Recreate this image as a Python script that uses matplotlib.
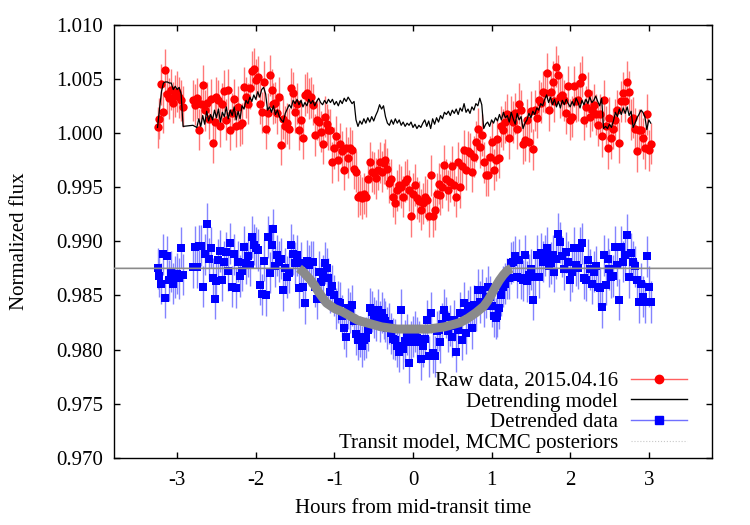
import numpy as np
import matplotlib
matplotlib.use('Agg')
import matplotlib.pyplot as plt
from matplotlib.lines import Line2D

plt.rcParams['font.family'] = ['Liberation Serif', 'DejaVu Serif']
plt.rcParams['font.size'] = 15
plt.rcParams['axes.unicode_minus'] = False

# two observing segments (short gap near -2.9 h), 0.025 h cadence
seg_start = [-3.25, -2.80]
seg_end = [-2.925, 3.025]

# raw photometry, 2015.04.16
raw_1 = [1.0005, 1.0013, 1.0045, 1.0019, 1.0058, 1.0036, 1.0032, 1.0040, 1.0028, 1.0034,
         1.0038, 1.0033, 1.0030, 1.0024]
raw_2 = [1.0030, 1.0026, 1.0032, 1.0003, 1.0027, 1.0044, 1.0021, 1.0028, 1.0013, 1.0031,
         0.9991, 1.0010, 1.0033, 1.0030, 1.0006, 1.0027, 1.0039, 1.0012, 1.0040, 1.0003,
         1.0018, 1.0031, 1.0006, 1.0024, 1.0007, 1.0009, 1.0042, 1.0033, 1.0027, 1.0041,
         1.0057, 1.0059, 1.0049, 1.0052, 1.0027, 1.0019, 1.0047, 1.0004, 1.0018, 1.0053,
         1.0040, 1.0027, 1.0028, 1.0018, 1.0033, 0.9989, 1.0013, 1.0006, 1.0009, 1.0004,
         1.0041, 1.0037, 1.0019, 1.0027, 1.0003, 1.0012, 0.9995, 1.0035, 1.0037, 1.0032,
         1.0033, 1.0026, 0.9998, 1.0012, 1.0010, 1.0001, 0.9990, 1.0015, 1.0008, 1.0003,
         1.0003, 0.9973, 0.9986, 0.9997, 0.9975, 0.9990, 0.9983, 0.9966, 0.9986, 0.9977,
         0.9986, 0.9984, 0.9967, 0.9964, 0.9941, 0.9943, 0.9940, 0.9944, 0.9941, 0.9957,
         0.9973, 0.9964, 0.9963, 0.9958, 0.9966, 0.9973, 0.9964, 0.9972, 0.9975, 0.9967,
         0.9954, 0.9957, 0.9941, 0.9935, 0.9947, 0.9952, 0.9950, 0.9941, 0.9955, 0.9957,
         0.9947, 0.9923, 0.9944, 0.9952, 0.9940, 0.9937, 0.9929, 0.9935, 0.9941, 0.9938,
         0.9923, 0.9961, 0.9923, 0.9929, 0.9944, 0.9953, 0.9943, 0.9950, 0.9970, 0.9957,
         0.9947, 0.9955, 0.9969, 0.9952, 0.9941, 0.9973, 0.9950, 0.9969, 0.9984, 0.9966,
         0.9983, 0.9981, 0.9964, 0.9978, 0.9992, 1.0004, 0.9987, 0.9998, 0.9973, 0.9961,
         0.9961, 0.9978, 0.9992, 0.9966, 0.9975, 0.9994, 0.9977, 1.0006, 1.0003, 1.0010,
         1.0017, 0.9995, 1.0015, 1.0010, 1.0018, 1.0004, 1.0027, 1.0021, 0.9990, 0.9993,
         1.0012, 0.9992, 1.0020, 0.9985, 1.0021, 1.0014, 1.0030, 1.0028, 1.0038, 1.0037,
         1.0055, 1.0021, 1.0038, 1.0047, 1.0029, 1.0061, 1.0053, 1.0033, 1.0035, 1.0030,
         1.0018, 1.0043, 1.0012, 1.0015, 1.0043, 1.0029, 1.0030, 1.0046, 1.0052, 1.0012,
         1.0024, 1.0037, 1.0015, 1.0021, 1.0026, 1.0017, 1.0007, 1.0017, 0.9997, 1.0030,
         1.0006, 0.9986, 1.0014, 0.9995, 1.0004, 1.0012, 1.0021, 0.9991, 1.0029, 1.0037,
         1.0029, 1.0047, 1.0038, 1.0012, 1.0014, 1.0004, 0.9983, 1.0003, 1.0003, 0.9995,
         0.9986, 1.0017, 0.9984, 0.9990]

# detrending model
trend_1 = [1.0005, 1.0022, 1.0038, 1.0046, 1.0047, 1.0047, 1.0046, 1.0046, 1.0040, 1.0043,
           1.0040, 1.0042, 1.0036, 1.0006]
trend_2 = [1.0007, 1.0006, 1.0005, 1.0013, 1.0006, 1.0016, 1.0008, 1.0020, 1.0011, 1.0017,
           1.0012, 1.0021, 1.0014, 1.0022, 1.0010, 1.0019, 1.0015, 1.0024, 1.0013, 1.0021,
           1.0016, 1.0024, 1.0012, 1.0020, 1.0013, 1.0025, 1.0022, 1.0030, 1.0027, 1.0033,
           1.0029, 1.0035, 1.0031, 1.0038, 1.0033, 1.0040, 1.0042, 1.0036, 1.0021, 1.0024,
           1.0019, 1.0025, 1.0017, 1.0021, 1.0015, 1.0012, 1.0010, 1.0018, 1.0022, 1.0026,
           1.0023, 1.0030, 1.0027, 1.0031, 1.0026, 1.0030, 1.0024, 1.0028, 1.0025, 1.0031,
           1.0027, 1.0030, 1.0025, 1.0029, 1.0032, 1.0028, 1.0026, 1.0030, 1.0027, 1.0031,
           1.0028, 1.0031, 1.0026, 1.0029, 1.0025, 1.0030, 1.0027, 1.0032, 1.0029, 1.0033,
           1.0030, 1.0027, 1.0029, 1.0012, 1.0006, 1.0011, 1.0008, 1.0013, 1.0009, 1.0014,
           1.0010, 1.0015, 1.0011, 1.0016, 1.0020, 1.0026, 1.0022, 1.0025, 1.0015, 1.0009,
           1.0007, 1.0012, 1.0008, 1.0013, 1.0009, 1.0012, 1.0007, 1.0010, 1.0006, 1.0009,
           1.0007, 1.0010, 1.0005, 1.0008, 1.0004, 1.0007, 1.0005, 1.0009, 1.0012, 1.0006,
           1.0011, 1.0004, 1.0013, 1.0008, 1.0014, 1.0010, 1.0016, 1.0013, 1.0019, 1.0017,
           1.0020, 1.0016, 1.0021, 1.0018, 1.0022, 1.0017, 1.0023, 1.0020, 1.0027, 1.0019,
           1.0022, 1.0018, 1.0024, 1.0021, 1.0027, 1.0025, 1.0032, 1.0026, 1.0004, 1.0008,
           1.0010, 1.0006, 1.0012, 1.0009, 1.0014, 1.0011, 1.0017, 1.0012, 1.0019, 1.0014,
           1.0016, 1.0010, 1.0019, 1.0013, 1.0008, 1.0018, 1.0012, 1.0015, 1.0004, 1.0009,
           1.0012, 1.0018, 1.0014, 1.0020, 1.0017, 1.0023, 1.0021, 1.0027, 1.0025, 1.0031,
           1.0035, 1.0028, 1.0033, 1.0026, 1.0031, 1.0024, 1.0029, 1.0023, 1.0030, 1.0026,
           1.0031, 1.0027, 1.0024, 1.0029, 1.0025, 1.0032, 1.0028, 1.0023, 1.0030, 1.0026,
           1.0031, 1.0027, 1.0033, 1.0028, 1.0030, 1.0034, 1.0029, 1.0025, 1.0032, 1.0004,
           1.0006, 1.0004, 1.0008, 1.0005, 1.0011, 1.0019, 1.0015, 1.0022, 1.0017, 1.0023,
           1.0018, 1.0024, 1.0016, 1.0020, 1.0005, 1.0009, 1.0014, 1.0017, 1.0021, 1.0019,
           1.0015, 1.0003, 1.0012, 1.0009]

# detrended light curve
detr_1 = [0.9875, 0.9868, 0.9861, 0.9888, 0.9848, 0.9886, 0.9864, 0.9872, 0.9861, 0.9867,
          0.9870, 0.9866, 0.9894, 0.9869]
detr_2 = [0.9876, 0.9895, 0.9876, 0.9896, 0.9896, 0.9858, 0.9888, 0.9916, 0.9884, 0.9894,
          0.9866, 0.9847, 0.9863, 0.9883, 0.9891, 0.9864, 0.9881, 0.9890, 0.9873, 0.9898,
          0.9858, 0.9888, 0.9857, 0.9881, 0.9868, 0.9873, 0.9895, 0.9880, 0.9886, 0.9878,
          0.9904, 0.9897, 0.9894, 0.9892, 0.9860, 0.9851, 0.9882, 0.9850, 0.9904, 0.9871,
          0.9897, 0.9911, 0.9877, 0.9887, 0.9881, 0.9884, 0.9855, 0.9875, 0.9867, 0.9871,
          0.9897, 0.9888, 0.9880, 0.9887, 0.9857, 0.9880, 0.9858, 0.9843, 0.9882, 0.9878,
          0.9881, 0.9881, 0.9858, 0.9847, 0.9872, 0.9862, 0.9868, 0.9880, 0.9875, 0.9866,
          0.9853, 0.9859, 0.9850, 0.9838, 0.9844, 0.9843, 0.9831, 0.9820, 0.9812, 0.9838,
          0.9834, 0.9841, 0.9826, 0.9814, 0.9809, 0.9812, 0.9803, 0.9809, 0.9811, 0.9818,
          0.9838, 0.9835, 0.9830, 0.9827, 0.9837, 0.9826, 0.9834, 0.9829, 0.9826, 0.9820,
          0.9824, 0.9815, 0.9810, 0.9809, 0.9803, 0.9798, 0.9837, 0.9801, 0.9808, 0.9814,
          0.9788, 0.9807, 0.9812, 0.9817, 0.9811, 0.9807, 0.9791, 0.9803, 0.9810, 0.9827,
          0.9794, 0.9834, 0.9797, 0.9794, 0.9817, 0.9818, 0.9807, 0.9824, 0.9837, 0.9830,
          0.9817, 0.9822, 0.9812, 0.9827, 0.9798, 0.9818, 0.9834, 0.9809, 0.9843, 0.9815,
          0.9836, 0.9840, 0.9820, 0.9841, 0.9836, 0.9855, 0.9844, 0.9855, 0.9840, 0.9848,
          0.9858, 0.9849, 0.9840, 0.9831, 0.9829, 0.9831, 0.9838, 0.9850, 0.9858, 0.9861,
          0.9866, 0.9866, 0.9880, 0.9881, 0.9886, 0.9867, 0.9883, 0.9866, 0.9864, 0.9887,
          0.9863, 0.9869, 0.9874, 0.9846, 0.9867, 0.9887, 0.9867, 0.9889, 0.9881, 0.9887,
          0.9894, 0.9877, 0.9880, 0.9887, 0.9872, 0.9884, 0.9907, 0.9899, 0.9886, 0.9874,
          0.9890, 0.9881, 0.9864, 0.9872, 0.9894, 0.9878, 0.9875, 0.9894, 0.9898, 0.9866,
          0.9864, 0.9883, 0.9874, 0.9861, 0.9872, 0.9877, 0.9858, 0.9857, 0.9839, 0.9887,
          0.9860, 0.9884, 0.9874, 0.9867, 0.9868, 0.9895, 0.9878, 0.9846, 0.9895, 0.9881,
          0.9887, 0.9906, 0.9867, 0.9889, 0.9881, 0.9877, 0.9864, 0.9844, 0.9861, 0.9849,
          0.9844, 0.9886, 0.9858, 0.9844]

raw_err = 0.0019
detr_err = 0.0019

# transit model (posterior band)
model_t = [-3.8, -1.45, -1.40, -1.35, -1.30, -1.25, -1.20, -1.15, -1.10, -1.00, -0.90,
           -0.80, -0.70, -0.60, -0.40, -0.20, 0.00, 0.20, 0.40, 0.60, 0.70, 0.80, 0.90,
           0.95, 1.00, 1.05, 1.10, 1.15, 1.20, 1.25, 3.8]
model_f = [0.9875, 0.9875, 0.9872, 0.9868, 0.9864, 0.9859, 0.9853, 0.9848, 0.9843, 0.9838,
           0.9835, 0.9831, 0.9827, 0.9825, 0.9821, 0.9819, 0.9819, 0.9819, 0.9821, 0.9825,
           0.9829, 0.9834, 0.9840, 0.9845, 0.9851, 0.9858, 0.9864, 0.9869, 0.9873, 0.9875,
           0.9875]

labels = ['Raw data, 2015.04.16', 'Detrending model', 'Detrended data',
          'Transit model, MCMC posteriors']

t = np.concatenate([np.linspace(seg_start[0], seg_end[0], len(raw_1)),
                    np.linspace(seg_start[1], seg_end[1], len(raw_2))])
raw = np.array(raw_1 + raw_2)
trend = np.array(trend_1 + trend_2)
detr = np.array(detr_1 + detr_2)

fig = plt.figure(figsize=(7.5, 5.25), dpi=100)
ax = fig.add_axes([0.1524, 0.1276, 0.7965, 0.8257])

ax.errorbar(t, raw, yerr=raw_err, fmt='o', color='red', ms=6, mew=0,
            ecolor='#ff7878', elinewidth=1, capsize=0, zorder=2)
ax.plot(t, trend, color='black', lw=0.9, zorder=3)
ax.errorbar(t, detr, yerr=detr_err, fmt='s', color='blue', ms=5.2, mew=0,
            ecolor='#8484ff', elinewidth=1, capsize=0, zorder=4)
ax.plot(model_t, model_f, color='#8a8a8a', lw=1.2, zorder=5)
ax.plot(model_t[1:-1], model_f[1:-1], color='#8a8a8a', lw=6.5,
        solid_capstyle='butt', zorder=5)

ax.set_xlim(-3.8, 3.8)
ax.set_ylim(0.970, 1.010)
ax.set_xticks(np.arange(-3, 4, 1))
ax.set_yticks(np.arange(0.970, 1.0101, 0.005))
ax.yaxis.set_major_formatter(matplotlib.ticker.FormatStrFormatter('%.3f'))
ax.tick_params(direction='in', length=4.5, width=1, top=True, right=True)
ax.tick_params(axis='x', pad=9)
ax.tick_params(axis='y', pad=8)
for s in ax.spines.values():
    s.set_linewidth(1)

ax.set_xlabel('Hours from mid-transit time')
ax.set_ylabel('Normalized flux')
ax.xaxis.set_label_coords(0.5, -0.095)
ax.yaxis.set_label_coords(-0.142, 0.5)

handles = [
    Line2D([], [], color='#ff6060', lw=1, marker='o', ms=6, mfc='red', mec='red'),
    Line2D([], [], color='black', lw=1),
    Line2D([], [], color='#7070ff', lw=1, marker='s', ms=5.2, mfc='blue', mec='blue'),
    Line2D([], [], color='#c8c8c8', lw=0.8, ls=':'),
]
ax.legend(handles, labels, loc='lower right', bbox_to_anchor=(0.9587, 0.012),
          frameon=False, markerfirst=False, handlelength=2.7, handletextpad=0.62,
          labelspacing=0.05, borderpad=0, borderaxespad=0)

fig.savefig('out.png', dpi=100)
